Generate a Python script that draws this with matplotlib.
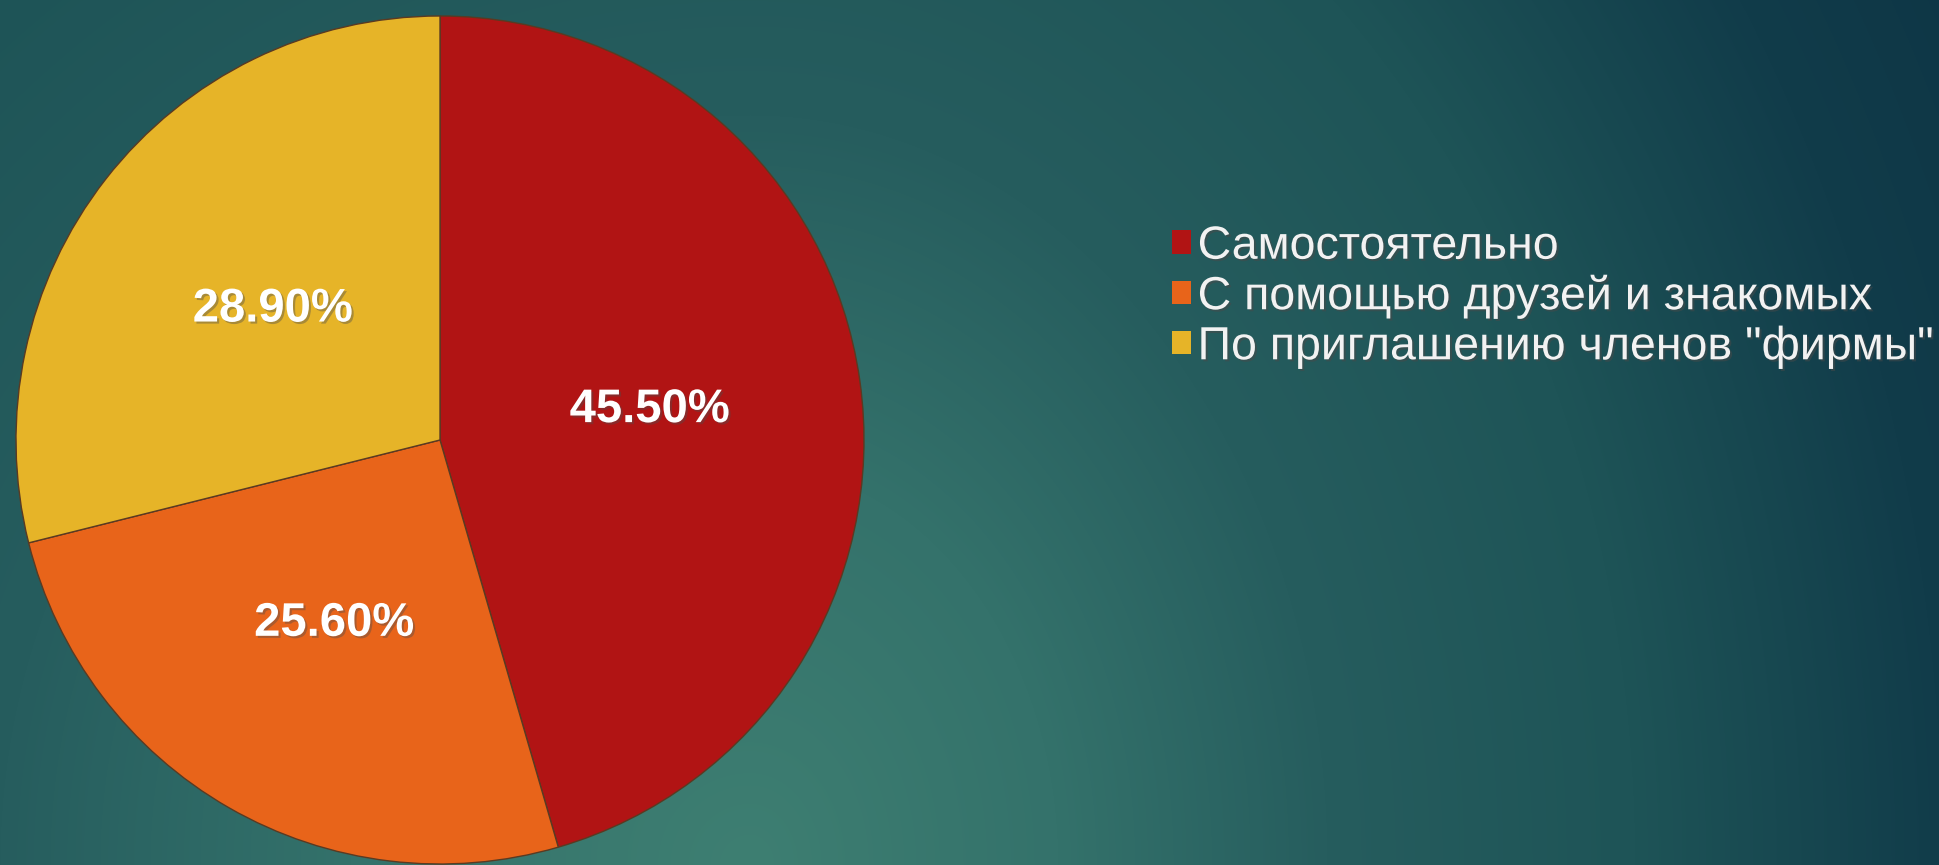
import numpy as np
import matplotlib.pyplot as plt
import matplotlib.patheffects as pe

# data
labels = ['Самостоятельно', 'С помощью друзей и знакомых', 'По приглашению членов "фирмы"']
shares = [45.5, 25.6, 28.9]
colors = ['#B11414', '#E8641A', '#E6B428']

W, H = 1939, 865
fig = plt.figure(figsize=(W / 100, H / 100), dpi=100)

# background gradient (teal, lighter near bottom middle, darker to the right)
bg = fig.add_axes([0, 0, 1, 1], zorder=0)
yy, xx = np.mgrid[0:H, 0:W]
dx = xx - 750.0
dx = np.where(dx > 0, dx * 1.3, dx)
dy = yy - 865.0
d = np.sqrt(dx ** 2 + dy ** 2)
stops = [0, 400, 750, 1150, 1550, 1800]
cols = np.array([(62, 127, 114), (52, 114, 107), (38, 93, 94),
                 (30, 84, 87), (17, 60, 74), (14, 54, 70)]) / 255.0
img = np.dstack([np.interp(d, stops, cols[:, i]) for i in range(3)])
bg.imshow(img, aspect='auto', extent=(0, W, H, 0))
bg.axis('off')

# pie axes: center (440, 440) px, radius 424 px
r = 424
ax = fig.add_axes([(440 - r) / W, (H - 440 - r) / H, 2 * r / W, 2 * r / H], zorder=1)
wedges, texts, autotexts = ax.pie(
    shares, colors=colors, startangle=90, counterclock=False,
    autopct='%.2f%%', pctdistance=0.5,
    wedgeprops=dict(edgecolor='#5a3a22', linewidth=1.0),
    textprops=dict(color='white', fontsize=34, fontweight='bold',
                   family=['Liberation Sans', 'DejaVu Sans']))
for t in autotexts:
    t.set_path_effects([pe.withSimplePatchShadow(offset=(1.5, -1.5), alpha=0.4)])
ax.set_xlim(-1, 1)
ax.set_ylim(-1, 1)
ax.set_aspect('equal')
ax.axis('off')

leg = fig.legend(wedges, labels, loc='center left',
                 bbox_to_anchor=(1172 / W, 1 - 297 / H),
                 frameon=False, borderpad=0, borderaxespad=0,
                 handlelength=0.4, handleheight=0.4, handletextpad=0.15,
                 labelspacing=0.13,
                 prop=dict(family=['Liberation Sans', 'DejaVu Sans'], size=33.5))
for t in leg.get_texts():
    t.set_color('#F2F2F2')
    t.set_path_effects([pe.withSimplePatchShadow(offset=(1.5, -1.5), alpha=0.5)])
for h in leg.legend_handles:
    h.set_edgecolor('none')

fig.savefig('out.png', dpi=100)
